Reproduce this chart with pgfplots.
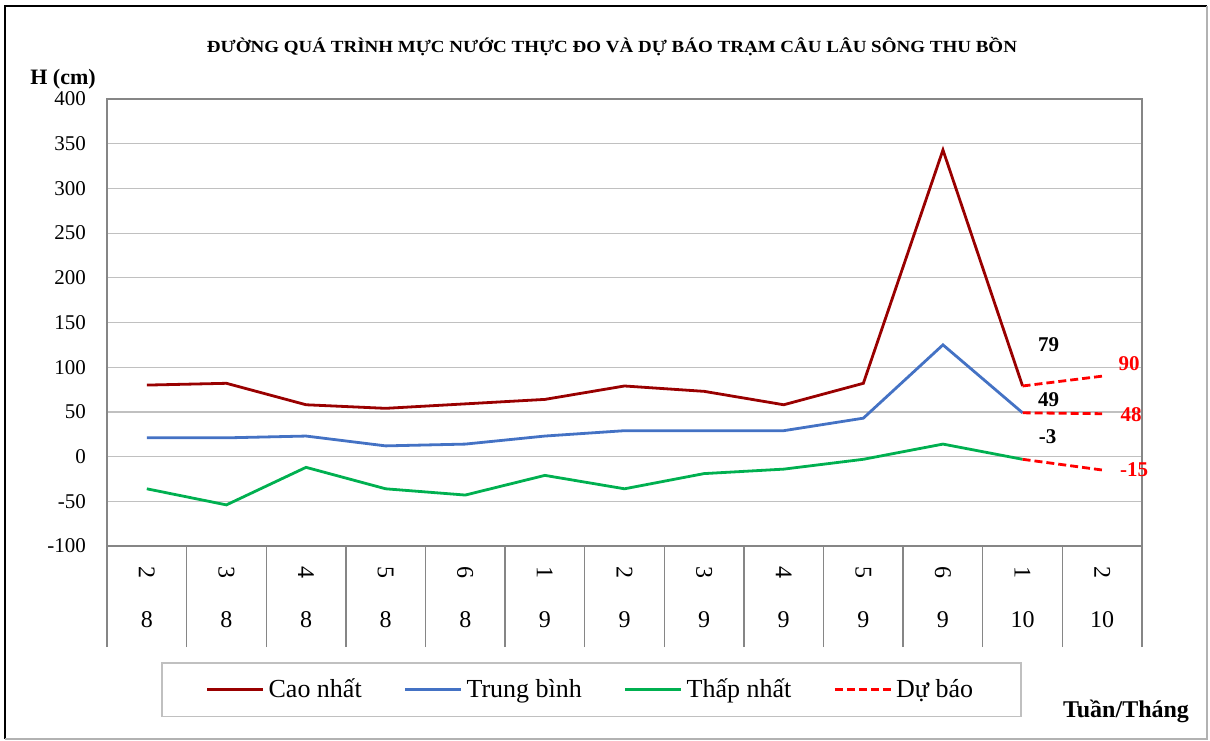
\documentclass[border=0pt]{standalone}
\usepackage{fontspec}
\setmainfont{Liberation Serif}
\usepackage{graphicx}
\usepackage{pgfplots}
\pgfplotsset{compat=1.18}

\definecolor{caonhat}{HTML}{990000}
\definecolor{trungbinh}{HTML}{4472C4}
\definecolor{thapnhat}{HTML}{00B050}
\definecolor{dubao}{HTML}{FF0000}
\definecolor{framegray}{HTML}{868686}
\definecolor{gridgray}{HTML}{C0C0C0}

\begin{document}
\begin{tikzpicture}
\useasboundingbox (0pt,0pt) rectangle (605pt,-370pt);
% outer chart frame
\draw[black, line width=0.8pt] (2.5pt,-369.5pt) -- (2.5pt,-3pt) -- (603.5pt,-3pt);
\draw[gray!60, line width=0.8pt] (603.5pt,-3pt) -- (603.5pt,-369.5pt) -- (2.5pt,-369.5pt);

\begin{axis}[
  at={(53.5pt,-273pt)}, anchor=south west,
  scale only axis, width=517.5pt, height=223.5pt,
  xmin=-0.5, xmax=12.5, ymin=-100, ymax=400,
  clip=false,
  ytick distance=50,
  xtick={0,...,12},
  xticklabels={\rotatebox{-90}{2},\rotatebox{-90}{3},\rotatebox{-90}{4},\rotatebox{-90}{5},\rotatebox{-90}{6},
               \rotatebox{-90}{1},\rotatebox{-90}{2},\rotatebox{-90}{3},\rotatebox{-90}{4},\rotatebox{-90}{5},
               \rotatebox{-90}{6},\rotatebox{-90}{1},\rotatebox{-90}{2}},
  minor xtick={-0.5,0.5,...,12.5},
  extra x ticks={0,...,12},
  extra x tick labels={8,8,8,8,8,9,9,9,9,9,9,10,10},
  extra x tick style={xticklabel style={yshift=-24pt}},
  tick pos=left,
  tick align=outside,
  major tick length=0pt,
  minor tick length=50.5pt,
  minor tick style={framegray, line width=0.7pt},
  axis line style={framegray, line width=0.8pt},
  ymajorgrids, grid style={gridgray, line width=0.6pt},
  xticklabel style={font=\fontsize{12}{14}\selectfont, anchor=center, yshift=-13pt},
  yticklabel style={font=\fontsize{10.5}{12}\selectfont, xshift=-7pt},
  /pgf/number format/assume math mode=true,
  legend columns=4,
  legend style={at={(axis description cs:0.0522,-0.2595)}, anchor=north west,
    draw=gridgray, line width=0.8pt, font=\fontsize{13}{15}\selectfont,
    inner xsep=22pt, inner ysep=6pt, column sep=0pt,
    /tikz/every even column/.append style={column sep=19pt}},
  legend image code/.code={\draw[#1] (0pt,0pt) -- (28pt,0pt);},
]
% measured water levels
\addplot[caonhat, line width=1.4pt] coordinates {
  (0,80) (1,82) (2,58) (3,54) (4,59) (5,64) (6,79) (7,73) (8,58) (9,82) (10,343) (11,79)};
\addlegendentry{Cao nhất}
\addplot[trungbinh, line width=1.4pt] coordinates {
  (0,21) (1,21) (2,23) (3,12) (4,14) (5,23) (6,29) (7,29) (8,29) (9,43) (10,125) (11,49)};
\addlegendentry{Trung bình}
\addplot[thapnhat, line width=1.4pt] coordinates {
  (0,-36) (1,-54) (2,-12) (3,-36) (4,-43) (5,-21) (6,-36) (7,-19) (8,-14) (9,-3) (10,14) (11,-3)};
\addlegendentry{Thấp nhất}
% forecast
\addplot[dubao, line width=1.4pt, dash pattern=on 4pt off 2pt] coordinates {(11,79) (12,90)};
\addlegendentry{Dự báo}
\addplot[dubao, line width=1.4pt, dash pattern=on 4pt off 2pt, forget plot] coordinates {(11,49) (12,48)};
\addplot[dubao, line width=1.4pt, dash pattern=on 4pt off 2pt, forget plot] coordinates {(11,-3) (12,-15)};

% value labels
\begin{scope}[every node/.style={font=\bfseries\fontsize{10.5}{12}\selectfont}]
\node[xshift=13pt, yshift=20.5pt] at (axis cs:11,79) {79};
\node[xshift=13pt, yshift=6.5pt] at (axis cs:11,49) {49};
\node[xshift=12.5pt, yshift=11.3pt] at (axis cs:11,-3) {-3};
\node[text=dubao, xshift=13.5pt, yshift=6.2pt] at (axis cs:12,90) {90};
\node[text=dubao, xshift=14.5pt, yshift=-0.5pt] at (axis cs:12,48) {48};
\node[text=dubao, xshift=16pt, yshift=0pt] at (axis cs:12,-15) {-15};
\end{scope}
\end{axis}

\node at (306pt,-23.5pt) {\resizebox{405pt}{\height}{\bfseries\fontsize{8.5}{10}\selectfont ĐƯỜNG QUÁ TRÌNH MỰC NƯỚC THỰC ĐO VÀ DỰ BÁO TRẠM CÂU LÂU SÔNG THU BỒN}};
\node[font=\bfseries\fontsize{11}{13}\selectfont] at (31.5pt,-39.5pt) {H (cm)};
\node[font=\bfseries\fontsize{12}{14}\selectfont] at (563pt,-355.5pt) {Tuần/Tháng};
\end{tikzpicture}
\end{document}
